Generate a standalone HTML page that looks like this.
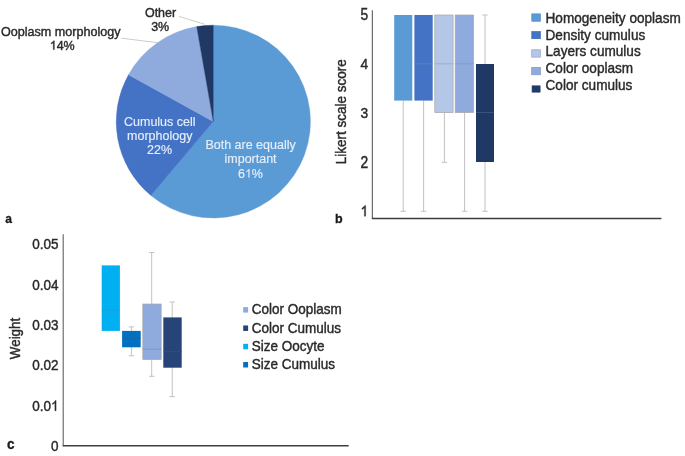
<!DOCTYPE html><html><head><meta charset="utf-8"><title>Figure</title><style>html,body{margin:0;padding:0;background:#fff;}svg{display:block;font-family:"Liberation Sans",sans-serif;filter:blur(0.45px);}text{font-family:"Liberation Sans",sans-serif;}</style></head><body>
<svg width="685" height="456" viewBox="0 0 685 456">
<rect width="685" height="456" fill="#ffffff"/>
<g>
<path d="M213.30,121.60 L213.30,25.20 A97.1,96.4 0 1 1 150.94,195.49 Z" fill="#5b9bd5" stroke="#5b9bd5" stroke-width="0.4"/>
<path d="M213.30,121.60 L150.94,195.49 A97.1,96.4 0 0 1 128.51,74.63 Z" fill="#4472c4" stroke="#4472c4" stroke-width="0.4"/>
<path d="M213.30,121.60 L128.51,74.63 A97.1,96.4 0 0 1 196.73,26.61 Z" fill="#8faadc" stroke="#8faadc" stroke-width="0.4"/>
<path d="M213.30,121.60 L196.73,26.61 A97.1,96.4 0 0 1 213.30,25.20 Z" fill="#203864" stroke="#203864" stroke-width="0.4"/>
</g>
<path d="M121.5,38.2 L157,42.6" stroke="#c6c6c6" stroke-width="0.9" fill="none"/>
<path d="M179,16.4 L204.5,24.2" stroke="#c6c6c6" stroke-width="0.9" fill="none"/>
<text transform="translate(60.75,36.00) scale(1,1.055)" font-size="12.6" text-anchor="middle" fill="#2a2a2a" stroke="#2a2a2a" stroke-width="0.4" >Ooplasm morphology</text>
<path transform="translate(49.70,49.50) scale(0.006104,-0.005920)" d="M763 0H583V1147Q518 1085 412.5 1023Q307 961 223 930V1104Q374 1175 487 1276Q600 1377 647 1472H763Z" fill="#2a2a2a" stroke="#2a2a2a" stroke-width="0.4" vector-effect="non-scaling-stroke"/>
<text transform="translate(56.65,49.50) scale(1,0.97)" font-size="12.5" text-anchor="start" fill="#2a2a2a" stroke="#2a2a2a" stroke-width="0.4" >4%</text>
<text transform="translate(160.55,17.05) scale(1,1.055)" font-size="12.5" text-anchor="middle" fill="#2a2a2a" stroke="#2a2a2a" stroke-width="0.4" >Other</text>
<text transform="translate(160.15,31.05) scale(1,1.055)" font-size="12.5" text-anchor="middle" fill="#2a2a2a" stroke="#2a2a2a" stroke-width="0.4" >3%</text>
<text transform="translate(159.75,125.85) scale(1,0.95)" font-size="12.5" text-anchor="middle" fill="#e6effa" stroke="#e6effa" stroke-width="0.15" >Cumulus cell</text>
<text transform="translate(159.75,140.05) scale(1,0.95)" font-size="12.5" text-anchor="middle" fill="#e6effa" stroke="#e6effa" stroke-width="0.15" >morphology</text>
<text transform="translate(159.55,154.45) scale(1,0.95)" font-size="12.5" text-anchor="middle" fill="#e6effa" stroke="#e6effa" stroke-width="0.15" >22%</text>
<text transform="translate(250.55,149.05) scale(1,0.95)" font-size="12.5" text-anchor="middle" fill="#e6effa" stroke="#e6effa" stroke-width="0.15" >Both are equally</text>
<text transform="translate(250.55,163.25) scale(1,0.95)" font-size="12.5" text-anchor="middle" fill="#e6effa" stroke="#e6effa" stroke-width="0.15" >important</text>
<text transform="translate(237.89,177.55) scale(1,0.95)" font-size="12.5" text-anchor="start" fill="#e6effa" stroke="#e6effa" stroke-width="0.15" >6</text>
<path transform="translate(244.84,177.55) scale(0.006104,-0.005798)" d="M763 0H583V1147Q518 1085 412.5 1023Q307 961 223 930V1104Q374 1175 487 1276Q600 1377 647 1472H763Z" fill="#e6effa" stroke="#e6effa" stroke-width="0.15" vector-effect="non-scaling-stroke"/>
<text transform="translate(251.79,177.55) scale(1,0.95)" font-size="12.5" text-anchor="start" fill="#e6effa" stroke="#e6effa" stroke-width="0.15" >%</text>
<text transform="translate(5.25,223.25) scale(1,1.1)" font-size="12" text-anchor="start" fill="#1a1a1a" stroke="#1a1a1a" stroke-width="0.3" font-weight="bold">a</text>
<text transform="translate(334.95,222.80) scale(1,1.02)" font-size="12.5" text-anchor="start" fill="#1a1a1a" stroke="#1a1a1a" stroke-width="0.3" font-weight="bold">b</text>
<text transform="translate(6.95,449.35) scale(1,1.055)" font-size="13.5" text-anchor="start" fill="#1a1a1a" stroke="#1a1a1a" stroke-width="0.3" font-weight="bold">c</text>
<path d="M372.35,10.2 L372.35,218.3" stroke="#5c5c5c" stroke-width="1.1" fill="none"/>
<path d="M371.8,218.4 L661.4,218.4" stroke="#3c3c3c" stroke-width="1.45" fill="none"/>
<text transform="translate(368.15,20.35) scale(1,1.18)" font-size="13.8" text-anchor="end" fill="#2a2a2a" stroke="#2a2a2a" stroke-width="0.4" >5</text>
<text transform="translate(368.15,69.05) scale(1,1.11)" font-size="13.8" text-anchor="end" fill="#2a2a2a" stroke="#2a2a2a" stroke-width="0.4" >4</text>
<text transform="translate(368.15,118.10) scale(1,1.11)" font-size="13.8" text-anchor="end" fill="#2a2a2a" stroke="#2a2a2a" stroke-width="0.4" >3</text>
<text transform="translate(368.15,167.50) scale(1,1.18)" font-size="13.8" text-anchor="end" fill="#2a2a2a" stroke="#2a2a2a" stroke-width="0.4" >2</text>
<path transform="translate(360.48,216.15) scale(0.006738,-0.007277)" d="M763 0H583V1147Q518 1085 412.5 1023Q307 961 223 930V1104Q374 1175 487 1276Q600 1377 647 1472H763Z" fill="#2a2a2a" stroke="#2a2a2a" stroke-width="0.4" vector-effect="non-scaling-stroke"/>
<text transform="translate(346.3,111.8) rotate(-90) scale(1,1.07)" font-size="13.5" text-anchor="middle" fill="#2a2a2a" stroke="#2a2a2a" stroke-width="0.4">Likert scale score</text>
<path d="M403.2,100.6 L403.2,211.3" stroke="#c2c2c2" stroke-width="1" fill="none"/>
<path d="M400.5,211.3 L405.9,211.3" stroke="#c2c2c2" stroke-width="1" fill="none"/>
<path d="M423.6,100.6 L423.6,211.3" stroke="#c2c2c2" stroke-width="1" fill="none"/>
<path d="M420.90000000000003,211.3 L426.3,211.3" stroke="#c2c2c2" stroke-width="1" fill="none"/>
<path d="M444.4,112.6 L444.4,162.3" stroke="#c2c2c2" stroke-width="1" fill="none"/>
<path d="M441.7,162.3 L447.09999999999997,162.3" stroke="#c2c2c2" stroke-width="1" fill="none"/>
<path d="M464.6,112.6 L464.6,211.3" stroke="#c2c2c2" stroke-width="1" fill="none"/>
<path d="M461.90000000000003,211.3 L467.3,211.3" stroke="#c2c2c2" stroke-width="1" fill="none"/>
<path d="M485.0,15.0 L485.0,211.3" stroke="#c2c2c2" stroke-width="1" fill="none"/>
<path d="M482.3,15.0 L487.7,15.0" stroke="#c2c2c2" stroke-width="1" fill="none"/>
<path d="M482.3,211.3 L487.7,211.3" stroke="#c2c2c2" stroke-width="1" fill="none"/>
<rect x="394.2" y="15" width="18.10" height="85.60" fill="#5b9bd5"/>
<rect x="414.4" y="15" width="18.30" height="85.60" fill="#4472c4"/>
<path d="M414.4,63.8 L432.7,63.8" stroke="#6d87b8" stroke-width="0.7" fill="none"/>
<rect x="434.8" y="15" width="18.30" height="97.60" fill="#b4c7e7" stroke="#a6a6a6" stroke-width="0.7"/>
<path d="M434.8,63.8 L453.1,63.8" stroke="#9aa4b5" stroke-width="0.7" fill="none"/>
<rect x="455.2" y="15" width="18.40" height="97.60" fill="#8faadc" stroke="#a6a6a6" stroke-width="0.7"/>
<path d="M455.2,63.8 L473.6,63.8" stroke="#8894aa" stroke-width="0.7" fill="none"/>
<rect x="476.0" y="64.0" width="18.00" height="98.00" fill="#203864"/>
<path d="M476.0,112.5 L494.0,112.5" stroke="#4a5f86" stroke-width="0.7" fill="none"/>
<rect x="531.80" y="13.85" width="8.6" height="7.4" fill="#5b9bd5" stroke="#4f8bc6" stroke-width="0.7"/>
<text transform="translate(545.55,23.35) scale(1,1.055)" font-size="13.6" text-anchor="start" fill="#2a2a2a" stroke="#2a2a2a" stroke-width="0.4" >Homogeneity ooplasm</text>
<rect x="531.80" y="31.60" width="8.6" height="7.1" fill="#4472c4" stroke="#3d67b4" stroke-width="0.7"/>
<text transform="translate(545.55,39.85) scale(1,1.055)" font-size="13.6" text-anchor="start" fill="#2a2a2a" stroke="#2a2a2a" stroke-width="0.4" >Density cumulus</text>
<rect x="531.70" y="49.75" width="8.8" height="7.4" fill="#b4c7e7" stroke="#98a5be" stroke-width="0.7"/>
<text transform="translate(545.55,56.45) scale(1,1.055)" font-size="13.6" text-anchor="start" fill="#2a2a2a" stroke="#2a2a2a" stroke-width="0.4" >Layers cumulus</text>
<rect x="531.70" y="67.45" width="8.8" height="7.3" fill="#8faadc" stroke="#8294c0" stroke-width="0.7"/>
<text transform="translate(545.55,73.45) scale(1,1.055)" font-size="13.6" text-anchor="start" fill="#2a2a2a" stroke="#2a2a2a" stroke-width="0.4" >Color ooplasm</text>
<rect x="532.10" y="85.85" width="8.0" height="6.3" fill="#1f3a6c" stroke="#1f3a6c" stroke-width="0.7"/>
<text transform="translate(545.55,89.95) scale(1,1.055)" font-size="13.6" text-anchor="start" fill="#2a2a2a" stroke="#2a2a2a" stroke-width="0.4" >Color cumulus</text>
<path d="M63.2,234.2 L63.2,445.6" stroke="#626262" stroke-width="1.1" fill="none"/>
<path d="M62.65,445.7 L348.7,445.7" stroke="#404040" stroke-width="1.55" fill="none"/>
<text transform="translate(58.55,249.15) scale(1,1.055)" font-size="13.5" text-anchor="end" fill="#2a2a2a" stroke="#2a2a2a" stroke-width="0.4" >0.05</text>
<text transform="translate(58.55,289.83) scale(1,1.055)" font-size="13.5" text-anchor="end" fill="#2a2a2a" stroke="#2a2a2a" stroke-width="0.4" >0.04</text>
<text transform="translate(58.55,330.16) scale(1,1.055)" font-size="13.5" text-anchor="end" fill="#2a2a2a" stroke="#2a2a2a" stroke-width="0.4" >0.03</text>
<text transform="translate(58.55,370.49) scale(1,1.055)" font-size="13.5" text-anchor="end" fill="#2a2a2a" stroke="#2a2a2a" stroke-width="0.4" >0.02</text>
<text transform="translate(58.55,451.15) scale(1,1.055)" font-size="13.5" text-anchor="end" fill="#2a2a2a" stroke="#2a2a2a" stroke-width="0.4" >0</text>
<text transform="translate(51.04,410.82) scale(1,1.055)" font-size="13.5" text-anchor="end" fill="#2a2a2a" stroke="#2a2a2a" stroke-width="0.4" >0.0</text>
<path transform="translate(51.04,410.82) scale(0.006592,-0.006954)" d="M763 0H583V1147Q518 1085 412.5 1023Q307 961 223 930V1104Q374 1175 487 1276Q600 1377 647 1472H763Z" fill="#2a2a2a" stroke="#2a2a2a" stroke-width="0.4" vector-effect="non-scaling-stroke"/>
<text transform="translate(19.5,338.5) rotate(-90) scale(1,1.07)" font-size="13.35" text-anchor="middle" fill="#2a2a2a" stroke="#2a2a2a" stroke-width="0.4">Weight</text>
<path d="M131.4,326.9 L131.4,355.8" stroke="#c2c2c2" stroke-width="1" fill="none"/>
<path d="M128.70000000000002,326.9 L134.1,326.9" stroke="#c2c2c2" stroke-width="1" fill="none"/>
<path d="M128.70000000000002,355.8 L134.1,355.8" stroke="#c2c2c2" stroke-width="1" fill="none"/>
<path d="M151.7,252.6 L151.7,376.3" stroke="#c2c2c2" stroke-width="1" fill="none"/>
<path d="M149.0,252.6 L154.39999999999998,252.6" stroke="#c2c2c2" stroke-width="1" fill="none"/>
<path d="M149.0,376.3 L154.39999999999998,376.3" stroke="#c2c2c2" stroke-width="1" fill="none"/>
<path d="M172.2,302.0 L172.2,396.6" stroke="#c2c2c2" stroke-width="1" fill="none"/>
<path d="M169.5,302.0 L174.89999999999998,302.0" stroke="#c2c2c2" stroke-width="1" fill="none"/>
<path d="M169.5,396.6 L174.89999999999998,396.6" stroke="#c2c2c2" stroke-width="1" fill="none"/>
<rect x="101.7" y="265.4" width="18.20" height="65.50" fill="#00b0f0"/>
<path d="M101.7,310.4 L119.9,310.4" stroke="#18a0da" stroke-width="0.7" fill="none"/>
<rect x="122.1" y="330.9" width="18.60" height="16.40" fill="#0070c0"/>
<path d="M122.1,338.4 L140.7,338.4" stroke="#1c64a6" stroke-width="0.7" fill="none"/>
<rect x="142.8" y="304.0" width="18.40" height="55.60" fill="#8faadc" stroke="#a9a9a9" stroke-width="0.7"/>
<path d="M142.8,349.2 L161.2,349.2" stroke="#7c89a8" stroke-width="0.7" fill="none"/>
<rect x="163.3" y="317.4" width="18.40" height="50.30" fill="#264478"/>
<path d="M163.3,351.5 L181.7,351.5" stroke="#324f82" stroke-width="0.7" fill="none"/>
<rect x="243.2" y="307.10" width="4.9" height="5.5" fill="#8faadc"/>
<text transform="translate(251.75,314.40) scale(1,1.03)" font-size="13.5" text-anchor="start" fill="#2a2a2a" stroke="#2a2a2a" stroke-width="0.4" >Color Ooplasm</text>
<rect x="243.2" y="325.45" width="4.9" height="5.5" fill="#264478"/>
<text transform="translate(251.75,332.65) scale(1,1.03)" font-size="13.5" text-anchor="start" fill="#2a2a2a" stroke="#2a2a2a" stroke-width="0.4" >Color Cumulus</text>
<rect x="243.2" y="343.80" width="4.9" height="5.5" fill="#00b0f0"/>
<text transform="translate(251.75,350.90) scale(1,1.03)" font-size="13.5" text-anchor="start" fill="#2a2a2a" stroke="#2a2a2a" stroke-width="0.4" >Size Oocyte</text>
<rect x="243.2" y="362.00" width="4.9" height="5.5" fill="#0070c0"/>
<text transform="translate(251.75,369.00) scale(1,1.03)" font-size="13.5" text-anchor="start" fill="#2a2a2a" stroke="#2a2a2a" stroke-width="0.4" >Size Cumulus</text>
</svg></body></html>
